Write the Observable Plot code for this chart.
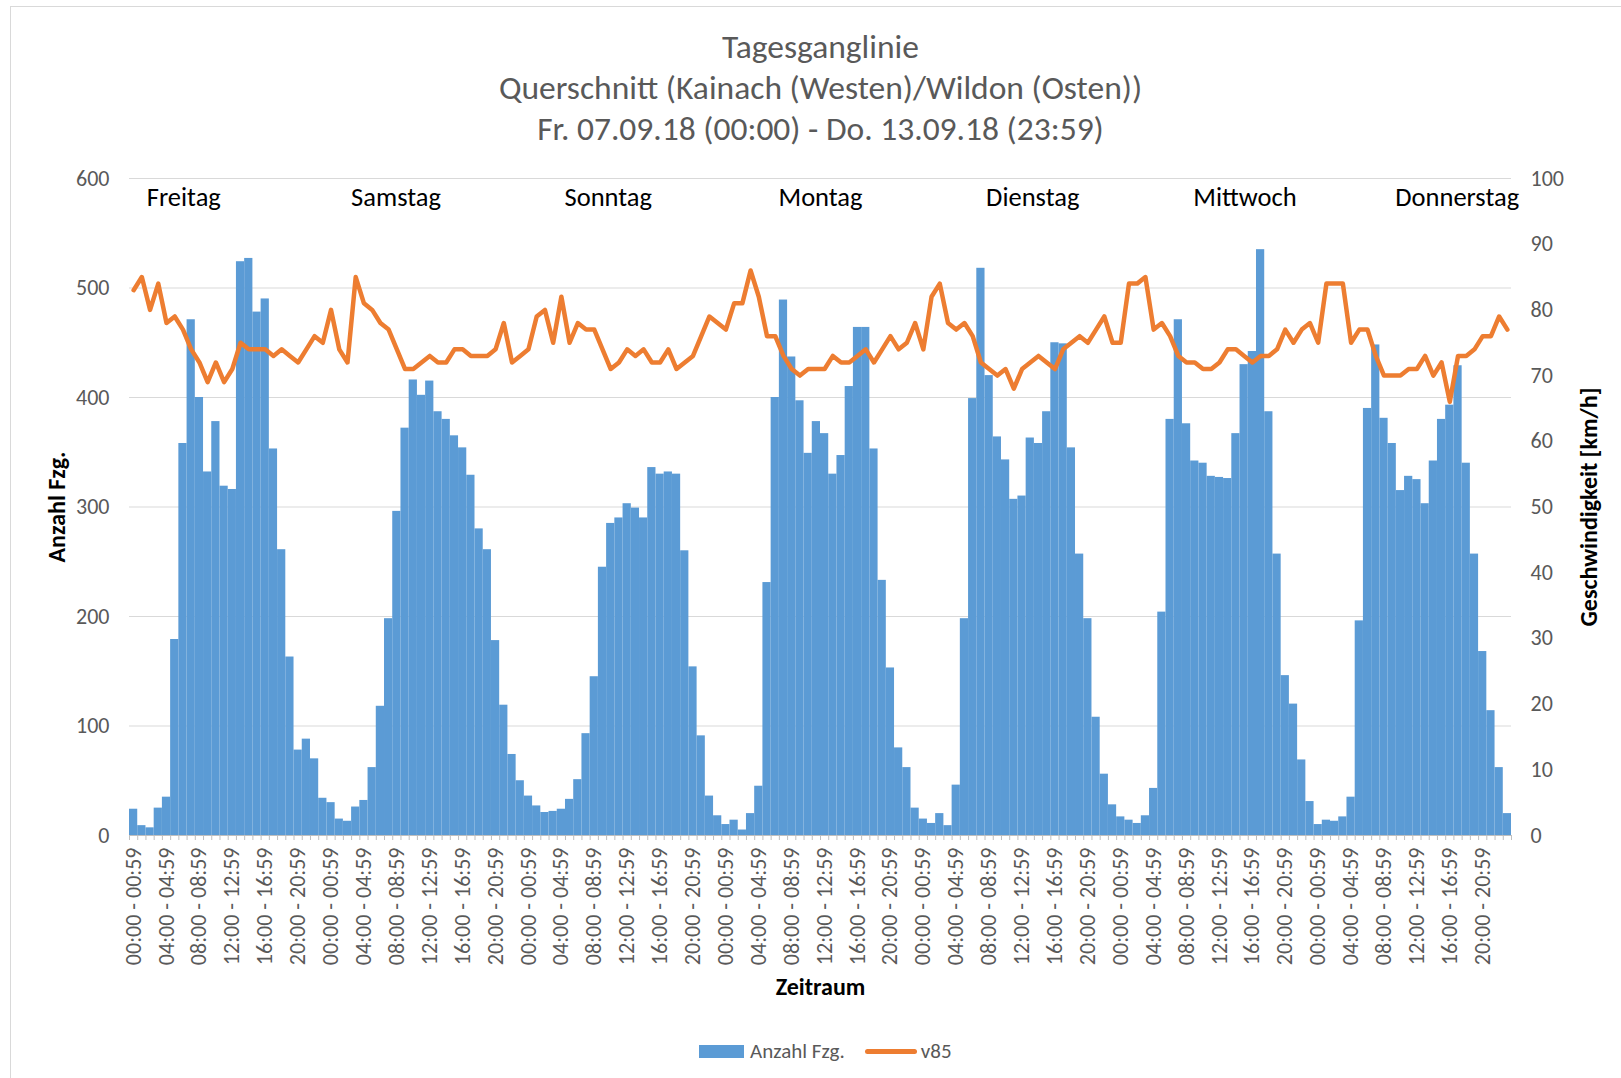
<!DOCTYPE html>
<html>
<head>
<meta charset="utf-8">
<script src="https://cdn.jsdelivr.net/npm/d3@7"></script>
<script src="https://cdn.jsdelivr.net/npm/@observablehq/plot@0.6"></script>
<style>
html,body{margin:0;padding:0;background:#fff;overflow:hidden;width:1621px;height:1078px;}
body{position:relative;font-family:Calibri,Carlito,Lato,sans-serif;}
#frame{position:absolute;left:10px;top:6px;width:1700px;height:1200px;border:1px solid #d9d9d9;box-sizing:border-box;}
#chart{position:absolute;left:0;top:0;}
#title{position:absolute;left:20px;width:1601px;top:26px;text-align:center;color:#595959;font-size:33.5px;line-height:41px;}
#legend{position:absolute;left:699px;top:1038px;height:26px;display:flex;align-items:center;color:#595959;font-size:21px;}
.sw-bar{width:45px;height:13px;background:#5B9BD5;margin-right:6px;}
.sw-line{width:52px;height:5px;border-radius:3px;background:#ED7D31;margin-left:20px;margin-right:4px;}
</style>
</head>
<body>
<div id="frame"></div>
<div id="chart"></div>
<div id="title"></div>
<div id="legend"></div>
<script>
// ---- data ----
const titleLines = ["Tagesganglinie", "Querschnitt (Kainach (Westen)/Wildon (Osten))", "Fr. 07.09.18 (00:00) - Do. 13.09.18 (23:59)"];
const days = ["Freitag", "Samstag", "Sonntag", "Montag", "Dienstag", "Mittwoch", "Donnerstag"];
const tickLabels = ["00:00 - 00:59", "04:00 - 04:59", "08:00 - 08:59", "12:00 - 12:59", "16:00 - 16:59", "20:00 - 20:59"];
const countTicks = [0, 100, 200, 300, 400, 500, 600];
const speedTicks = [0, 10, 20, 30, 40, 50, 60, 70, 80, 90, 100];

const countFr = [24, 9, 7, 25, 35, 179, 358, 471, 400, 332, 378, 319, 316, 524, 527, 478, 490, 353, 261, 163, 78, 88, 70, 34];
const countSa = [30, 15, 13, 26, 32, 62, 118, 198, 296, 372, 416, 402, 415, 387, 380, 365, 354, 329, 280, 261, 178, 119, 74, 50];
const countSo = [36, 27, 21, 22, 24, 33, 51, 93, 145, 245, 285, 290, 303, 299, 290, 336, 330, 332, 330, 260, 154, 91, 36, 18];
const countMo = [10, 14, 5, 20, 45, 231, 400, 489, 437, 397, 349, 378, 367, 330, 347, 410, 464, 464, 353, 233, 153, 80, 62, 25];
const countDi = [15, 11, 20, 9, 46, 198, 399, 518, 420, 364, 343, 307, 310, 363, 358, 387, 450, 449, 354, 257, 198, 108, 56, 28];
const countMi = [17, 14, 11, 18, 43, 204, 380, 471, 376, 342, 340, 328, 327, 326, 367, 430, 442, 535, 387, 257, 146, 120, 69, 31];
const countDo = [10, 14, 13, 17, 35, 196, 390, 448, 381, 358, 315, 328, 325, 303, 342, 380, 393, 429, 340, 257, 168, 114, 62, 20];

const speedFr = [83, 85, 80, 84, 78, 79, 77, 74, 72, 69, 72, 69, 71, 75, 74, 74, 74, 73, 74, 73, 72, 74, 76, 75];
const speedSa = [80, 74, 72, 85, 81, 80, 78, 77, 74, 71, 71, 72, 73, 72, 72, 74, 74, 73, 73, 73, 74, 78, 72, 73];
const speedSo = [74, 79, 80, 75, 82, 75, 78, 77, 77, 74, 71, 72, 74, 73, 74, 72, 72, 74, 71, 72, 73, 76, 79, 78];
const speedMo = [77, 81, 81, 86, 82, 76, 76, 73, 71, 70, 71, 71, 71, 73, 72, 72, 73, 74, 72, 74, 76, 74, 75, 78];
const speedDi = [74, 82, 84, 78, 77, 78, 76, 72, 71, 70, 71, 68, 71, 72, 73, 72, 71, 74, 75, 76, 75, 77, 79, 75];
const speedMi = [75, 84, 84, 85, 77, 78, 76, 73, 72, 72, 71, 71, 72, 74, 74, 73, 72, 73, 73, 74, 77, 75, 77, 78];
const speedDo = [75, 84, 84, 84, 75, 77, 77, 73, 70, 70, 70, 71, 71, 73, 70, 72, 66, 73, 73, 74, 76, 76, 79, 77];

// ---- build table ----
const counts = [countFr, countSa, countSo, countMo, countDi, countMi, countDo].flat();
const speeds = [speedFr, speedSa, speedSo, speedMo, speedDi, speedMi, speedDo].flat();
const N = counts.length; // 168 hours
const data = counts.map((c, i) => ({i, count: c, speed: speeds[i]}));
const speedToCount = 600 / 100; // secondary axis: 100 km/h = 600 Fzg.

// day label anchor positions, evenly spread across the frame (as in the original)
const dayPos = (i) => 6.6 + i * (N - 13.2) / 6;

document.getElementById("title").innerHTML = titleLines.map(t => `<div>${t}</div>`).join("");
document.getElementById("legend").innerHTML =
  `<div class="sw-bar"></div><span>Anzahl Fzg.</span><div class="sw-line"></div><span>v85</span>`;

const chart = Plot.plot({
  width: 1621,
  height: 1078,
  marginTop: 178,
  marginBottom: 243,
  marginLeft: 129,
  marginRight: 110,
  style: {fontFamily: "Calibri, Carlito, Lato, sans-serif", fontSize: "22px", color: "#595959", background: "transparent", overflow: "visible"},
  x: {type: "linear", domain: [0, N], axis: null},
  y: {domain: [0, 600], axis: null},
  marks: [
    Plot.gridY(countTicks, {stroke: "#d9d9d9", strokeOpacity: 1}),
    Plot.rectY(data, {x1: "i", x2: d => d.i + 1, y: "count", fill: "#5B9BD5", inset: 0}),
    Plot.ruleY([0], {stroke: "#bfbfbf"}),
    Plot.axisX(d3.range(0, N + 1), {tickSize: 5, tickFormat: () => "", stroke: "#bfbfbf", label: null}),
    Plot.axisX(d3.range(0, N, 4).map(i => i + 0.5), {
      tickSize: 0, tickPadding: 12, tickRotate: -90, label: null,
      tickFormat: d => tickLabels[Math.floor(d) % 24 / 4]
    }),
    Plot.axisY(countTicks, {anchor: "left", tickSize: 0, tickPadding: 20, label: null}),
    Plot.axisY(speedTicks.map(v => v * speedToCount), {anchor: "right", tickSize: 0, tickPadding: 19, label: null, tickFormat: d => d / speedToCount}),
    Plot.line(data, {x: d => d.i + 0.5, y: d => d.speed * speedToCount, stroke: "#ED7D31", strokeWidth: 4.5, strokeLinejoin: "round", strokeLinecap: "round"}),
    Plot.text(days, {x: (d, i) => dayPos(i), frameAnchor: "top", dy: 19, lineAnchor: "middle", textAnchor: "middle", fontSize: 26.5, fill: "black"}),
    Plot.text(["Anzahl Fzg."], {frameAnchor: "left", dx: -72, rotate: -90, textAnchor: "middle", lineAnchor: "middle", fontWeight: "bold", fontSize: 24, fill: "black"}),
    Plot.text(["Geschwindigkeit [km/h]"], {frameAnchor: "right", dx: 78, rotate: -90, textAnchor: "middle", lineAnchor: "middle", fontWeight: "bold", fontSize: 24, fill: "black"}),
    Plot.text(["Zeitraum"], {frameAnchor: "bottom", dy: 152, textAnchor: "middle", lineAnchor: "middle", fontWeight: "bold", fontSize: 24, fill: "black"})
  ]
});
document.getElementById("chart").appendChild(chart);
</script>
</body>
</html>
